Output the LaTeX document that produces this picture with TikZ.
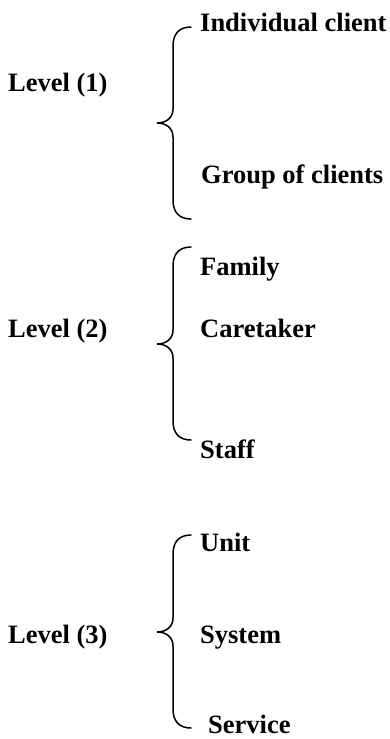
\documentclass[tikz,border=0pt]{standalone}
\usepackage{fontspec}
\setmainfont{Liberation Serif}
% curly brace opening to the right: #1 = top end, #2 = middle point, #3 = bottom end (y values)
\newcommand\levelbrace[3]{%
  \draw[bracestroke]
    (191,#1) .. controls (180,#1) and (173,#1+6) .. (173,#1+19)
    -- (173,#2-14) .. controls (173,#2-5) and (166,#2) .. (157,#2)
    .. controls (166,#2) and (173,#2+5) .. (173,#2+14)
    -- (173,#3-19) .. controls (173,#3-6) and (180,#3) .. (191,#3);%
}
\begin{document}
\begin{tikzpicture}[x=1pt,y=-1pt,
  label/.style={anchor=base west,inner sep=0pt,font=\fontsize{26.5}{30}\selectfont\bfseries},
  bracestroke/.style={line width=1.5pt,line cap=round}]
\useasboundingbox (0,0) rectangle (390,739);

% level (1)
\node[label] (lvA) at (8,91) {Level (1)};
\levelbrace{27}{123}{219}
\node[label] (indiv) at (200,31) {Individual client};
\node[label] (group) at (201,183) {Group of clients};

% level (2)
\node[label] (lvB) at (8,337) {Level (2)};
\levelbrace{247}{344}{440}
\node[label] (family) at (200,275) {Family};
\node[label] (care) at (200,337) {Caretaker};
\node[label] (staff) at (200,458) {Staff};

% level (3)
\node[label] (lvC) at (8,643) {Level (3)};
\levelbrace{535}{632}{728}
\node[label] (unit) at (200,551) {Unit};
\node[label] (system) at (200,643) {System};
\node[label] (service) at (208,733) {Service};
\end{tikzpicture}
\end{document}
